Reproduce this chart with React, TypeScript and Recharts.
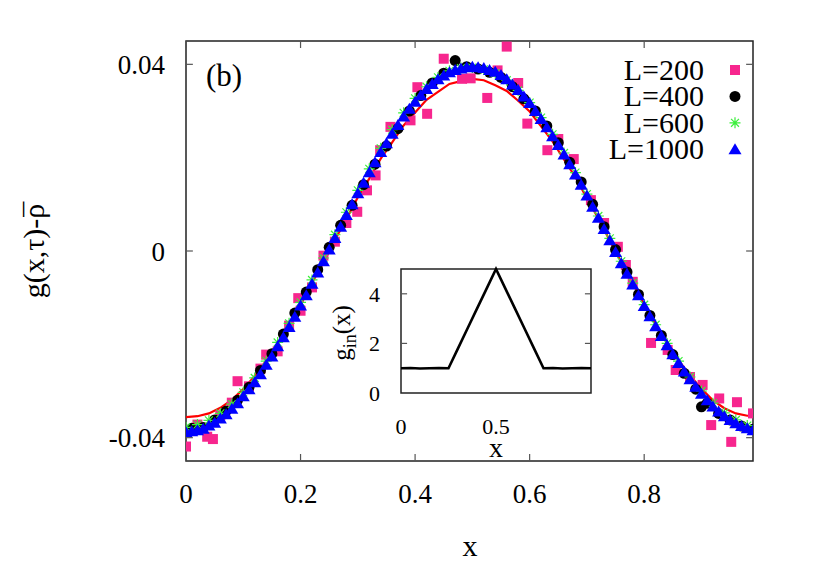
import React from 'react';
import { ComposedChart, LineChart, Scatter, Line, XAxis, YAxis, ReferenceArea, ReferenceLine } from 'recharts';

const FONT = '"Liberation Serif", "DejaVu Serif", "Times New Roman", serif';

// ---------- main chart axes ----------
const xTicks = [0, 0.2, 0.4, 0.6, 0.8];
const yTicks = [-0.04, 0, 0.04];
const xMin = 0;
const xMax = 0.99;
const yMin = -0.045;
const yMax = 0.045;

// ---------- L=200 (pink squares) ----------
const x200 = [0, 0.02, 0.037, 0.047, 0.06, 0.08, 0.09, 0.11, 0.13, 0.14, 0.16, 0.18, 0.196, 0.2, 0.22, 0.24, 0.26, 0.28, 0.299, 0.316, 0.331, 0.339, 0.357, 0.392, 0.404, 0.421, 0.45, 0.482, 0.497, 0.526, 0.544, 0.56, 0.58, 0.596, 0.631, 0.65, 0.677, 0.707, 0.73, 0.754, 0.768, 0.78, 0.812, 0.841, 0.855, 0.88, 0.902, 0.917, 0.931, 0.952, 0.962, 0.99];
const y200 = [-0.0419, -0.0372, -0.0398, -0.0403, -0.0352, -0.0325, -0.0279, -0.029, -0.0252, -0.0222, -0.0215, -0.016, -0.0101, -0.0128, -0.0078, -0.001, 0.002, 0.006, 0.0084, 0.013, 0.0162, 0.0216, 0.0266, 0.028, 0.0351, 0.0294, 0.0412, 0.0369, 0.037, 0.0328, 0.0387, 0.0438, 0.036, 0.0273, 0.0216, 0.024, 0.0197, 0.0109, 0.006, 0.0009, -0.003, -0.0066, -0.0197, -0.0212, -0.0255, -0.027, -0.0287, -0.0373, -0.0316, -0.0409, -0.0324, -0.0348];

// ---------- L=400 (black circles) ----------
const x400 = [0.01, 0.03, 0.05, 0.07, 0.09, 0.11, 0.13, 0.15, 0.17, 0.19, 0.21, 0.23, 0.25, 0.27, 0.29, 0.31, 0.33, 0.35, 0.37, 0.39, 0.41, 0.43, 0.45, 0.47, 0.49, 0.51, 0.53, 0.55, 0.57, 0.59, 0.61, 0.63, 0.65, 0.67, 0.69, 0.71, 0.73, 0.75, 0.77, 0.79, 0.81, 0.83, 0.85, 0.87, 0.89, 0.9, 0.91, 0.93, 0.95, 0.97, 0.99];
const y400 = [-0.038, -0.0378, -0.0362, -0.0343, -0.032, -0.0292, -0.0256, -0.022, -0.0178, -0.0133, -0.0088, -0.004, 0.0008, 0.0055, 0.0098, 0.0142, 0.0186, 0.0225, 0.0262, 0.03, 0.0333, 0.036, 0.0381, 0.0408, 0.0395, 0.039, 0.0383, 0.0372, 0.0352, 0.0326, 0.03, 0.0268, 0.0232, 0.019, 0.0148, 0.01, 0.0052, 0.0003, -0.0045, -0.0093, -0.0138, -0.0181, -0.0222, -0.0262, -0.0296, -0.0334, -0.0326, -0.0348, -0.0362, -0.0375, -0.0382];

// ---------- L=600 (green stars) ----------
const x600 = [0, 0.02, 0.04, 0.06, 0.08, 0.1, 0.12, 0.14, 0.16, 0.18, 0.2, 0.22, 0.24, 0.26, 0.28, 0.3, 0.32, 0.34, 0.36, 0.38, 0.4, 0.42, 0.44, 0.46, 0.48, 0.5, 0.52, 0.54, 0.56, 0.58, 0.6, 0.62, 0.64, 0.66, 0.68, 0.7, 0.72, 0.74, 0.76, 0.78, 0.8, 0.82, 0.84, 0.86, 0.88, 0.9, 0.92, 0.94, 0.96, 0.98];
const y600 = [-0.0378, -0.0372, -0.0363, -0.0348, -0.0328, -0.0303, -0.0272, -0.0236, -0.0196, -0.0155, -0.011, -0.0062, -0.0015, 0.0035, 0.0083, 0.013, 0.0176, 0.022, 0.026, 0.0296, 0.0327, 0.0352, 0.0372, 0.0386, 0.0392, 0.0393, 0.0389, 0.0381, 0.0366, 0.0344, 0.0318, 0.0286, 0.025, 0.021, 0.0168, 0.0122, 0.0075, 0.0027, -0.0022, -0.0069, -0.0115, -0.0158, -0.0198, -0.0236, -0.027, -0.03, -0.0326, -0.0347, -0.0362, -0.0374];

// ---------- L=1000 (blue triangles) ----------
const x1000 = [0, 0.01, 0.02, 0.03, 0.04, 0.05, 0.06, 0.07, 0.08, 0.09, 0.1, 0.11, 0.12, 0.13, 0.14, 0.15, 0.16, 0.17, 0.18, 0.19, 0.2, 0.21, 0.22, 0.23, 0.24, 0.25, 0.26, 0.27, 0.28, 0.29, 0.3, 0.31, 0.32, 0.33, 0.34, 0.35, 0.36, 0.37, 0.38, 0.39, 0.4, 0.41, 0.42, 0.43, 0.44, 0.45, 0.46, 0.47, 0.48, 0.49, 0.5, 0.51, 0.52, 0.53, 0.54, 0.55, 0.56, 0.57, 0.58, 0.59, 0.6, 0.61, 0.62, 0.63, 0.64, 0.65, 0.66, 0.67, 0.68, 0.69, 0.7, 0.71, 0.72, 0.73, 0.74, 0.75, 0.76, 0.77, 0.78, 0.79, 0.8, 0.81, 0.82, 0.83, 0.84, 0.85, 0.86, 0.87, 0.88, 0.89, 0.9, 0.91, 0.92, 0.93, 0.94, 0.95, 0.96, 0.97, 0.98, 0.99];
const y1000 = [-0.0388, -0.0386, -0.0384, -0.0381, -0.0374, -0.0368, -0.0359, -0.035, -0.0338, -0.0326, -0.0311, -0.0296, -0.0281, -0.0264, -0.0244, -0.0226, -0.0204, -0.0185, -0.0163, -0.0141, -0.0117, -0.0095, -0.007, -0.0046, -0.0022, 0.0003, 0.0028, 0.0052, 0.0077, 0.01, 0.0124, 0.0146, 0.0169, 0.019, 0.0212, 0.0231, 0.0251, 0.027, 0.0288, 0.0305, 0.032, 0.0334, 0.0347, 0.0358, 0.0368, 0.0376, 0.0383, 0.0388, 0.0391, 0.0394, 0.0395, 0.0394, 0.0392, 0.0388, 0.0384, 0.0377, 0.0368, 0.0357, 0.0345, 0.0331, 0.0317, 0.03, 0.0283, 0.0265, 0.0246, 0.0227, 0.0207, 0.0186, 0.0164, 0.0142, 0.0119, 0.0095, 0.0071, 0.0047, 0.0023, -0.0002, -0.0026, -0.0049, -0.0072, -0.0095, -0.0118, -0.014, -0.0161, -0.0182, -0.0202, -0.0221, -0.024, -0.0258, -0.0275, -0.0291, -0.0306, -0.032, -0.0333, -0.0344, -0.0354, -0.0362, -0.0369, -0.0375, -0.038, -0.0384];

// ---------- red curve ----------
const xRed = [0, 0.02, 0.04, 0.06, 0.08, 0.1, 0.12, 0.14, 0.16, 0.18, 0.2, 0.22, 0.24, 0.26, 0.28, 0.3, 0.32, 0.34, 0.36, 0.38, 0.4, 0.42, 0.44, 0.46, 0.48, 0.5, 0.52, 0.54, 0.56, 0.58, 0.6, 0.62, 0.64, 0.66, 0.68, 0.7, 0.72, 0.74, 0.76, 0.78, 0.8, 0.82, 0.84, 0.86, 0.88, 0.9, 0.92, 0.94, 0.96, 0.98, 0.99];
const yRed = [-0.0356, -0.0354, -0.0348, -0.0336, -0.0319, -0.0296, -0.0268, -0.0235, -0.0199, -0.0157, -0.0116, -0.0068, -0.0025, 0.0024, 0.0068, 0.0115, 0.0155, 0.0198, 0.0233, 0.0269, 0.0297, 0.0324, 0.0341, 0.0358, 0.0364, 0.0369, 0.0366, 0.0355, 0.0343, 0.0322, 0.0299, 0.0267, 0.0235, 0.0196, 0.0158, 0.0113, 0.007, 0.0022, -0.0024, -0.007, -0.0113, -0.0158, -0.0196, -0.0234, -0.0267, -0.0295, -0.032, -0.0337, -0.0348, -0.0353, -0.0352];

// ---------- inset ----------
const insetX = [0, 0.05, 0.1, 0.15, 0.2, 0.25, 0.3, 0.35, 0.4, 0.45, 0.5, 0.55, 0.6, 0.65, 0.7, 0.75, 0.8, 0.85, 0.9, 0.95, 1];
const insetG = [1, 1.01, 0.99, 1, 1.01, 1, 1.8, 2.6, 3.4, 4.2, 5, 4.2, 3.4, 2.6, 1.8, 1, 1.01, 0.99, 1, 1.01, 1];
const insetXTicks = [0, 0.5];
const insetYTicks = [0, 2, 4];

const legendNames = ['L=200', 'L=400', 'L=600', 'L=1000'];

const zip = (xs: number[], ys: number[]) => xs.map((x, i) => ({ x, y: ys[i] }));
const d200 = zip(x200, y200);
const d400 = zip(x400, y400);
const d600 = zip(x600, y600);
const d1000 = zip(x1000, y1000);
const dRed = zip(xRed, yRed);
const dInset = insetX.map((x, i) => ({ x, g: insetG[i] }));

const PINK = '#f7268e';
const GREEN = '#3bef3b';
const BLUE = '#0000ff';

const Square = (p: any) => <rect x={p.cx - 5} y={p.cy - 5} width={10} height={10} fill={PINK} />;
const Dot = (p: any) => <circle cx={p.cx} cy={p.cy} r={5.5} fill="#000" />;
const starPath = (cx: number, cy: number, r: number) => {
  const k = r * 0.72;
  return `M${cx - r},${cy}H${cx + r}M${cx},${cy - r}V${cy + r}M${cx - k},${cy - k}L${cx + k},${cy + k}M${cx - k},${cy + k}L${cx + k},${cy - k}`;
};
const Star = (p: any) => <path d={starPath(p.cx, p.cy, 5.5)} stroke={GREEN} strokeWidth={1.2} fill="none" />;
const triPoints = (cx: number, cy: number) => `${cx},${cy - 6} ${cx + 6.5},${cy + 5} ${cx - 6.5},${cy + 5}`;
const Tri = (p: any) => <polygon points={triPoints(p.cx, p.cy)} fill={BLUE} />;

const tickStyle = { fontSize: 27, fill: '#000', fontFamily: FONT };
const insetTickStyle = { fontSize: 22, fill: '#000', fontFamily: FONT };
const TICK = '#555';

export default function App() {
  const tkY = 0.0015;
  const tkX = 0.012;
  return (
    <div style={{ position: 'absolute', left: 0, top: 0, width: 814, height: 570, background: '#fff' }}>
      <ComposedChart width={814} height={570} margin={{ top: 41, right: 61, left: 0, bottom: 0 }}>
        <XAxis
          dataKey="x"
          type="number"
          domain={[xMin, xMax]}
          ticks={xTicks}
          allowDataOverflow
          height={109}
          axisLine={false}
          tickLine={false}
          tickSize={6}
          tickMargin={17}
          tick={tickStyle}
          tickFormatter={(v: number) => String(v)}
        />
        <YAxis
          dataKey="y"
          type="number"
          domain={[yMin, yMax]}
          ticks={yTicks}
          allowDataOverflow
          width={186}
          axisLine={false}
          tickLine={false}
          tickSize={6}
          tickMargin={15}
          tick={tickStyle}
          tickFormatter={(v: number) => String(v)}
        />
        {xTicks.map((t) => (
          <ReferenceLine key={'b' + t} segment={[{ x: t, y: yMin }, { x: t, y: yMin + tkY }]} stroke={TICK} strokeWidth={1.2} />
        ))}
        {xTicks.map((t) => (
          <ReferenceLine key={'t' + t} segment={[{ x: t, y: yMax }, { x: t, y: yMax - tkY }]} stroke={TICK} strokeWidth={1.2} />
        ))}
        {yTicks.map((t) => (
          <ReferenceLine key={'l' + t} segment={[{ x: xMin, y: t }, { x: xMin + tkX, y: t }]} stroke={TICK} strokeWidth={1.2} />
        ))}
        {yTicks.map((t) => (
          <ReferenceLine key={'r' + t} segment={[{ x: xMax, y: t }, { x: xMax - tkX, y: t }]} stroke={TICK} strokeWidth={1.2} />
        ))}
        <Scatter name="L=200" data={d200} dataKey="y" shape={Square} isAnimationActive={false} />
        <Scatter name="L=400" data={d400} dataKey="y" shape={Dot} isAnimationActive={false} />
        <Scatter name="L=600" data={d600} dataKey="y" shape={Star} isAnimationActive={false} />
        <Scatter name="L=1000" data={d1000} dataKey="y" shape={Tri} isAnimationActive={false} />
        <Line data={dRed} dataKey="y" stroke="#ff0000" strokeWidth={2.2} dot={false} type="linear" isAnimationActive={false} />
        <ReferenceArea x1={xMin} x2={xMax} y1={yMin} y2={yMax} fill="none" fillOpacity={0} stroke="#222" strokeWidth={1.5} />
      </ComposedChart>

      <div style={{ position: 'absolute', left: 330, top: 255 }}>
        <LineChart width={280} height={210} data={dInset} margin={{ top: 14, right: 19, left: 0, bottom: 0 }}>
          <XAxis
            dataKey="x"
            type="number"
            domain={[0, 1]}
            ticks={insetXTicks}
            height={72}
            axisLine={false}
            tickLine={false}
            tickSize={6}
            tickMargin={19}
            tick={insetTickStyle}
            tickFormatter={(v: number) => String(v)}
          />
          <YAxis
            type="number"
            domain={[0, 5]}
            ticks={insetYTicks}
            width={71}
            axisLine={false}
            tickLine={false}
            tickSize={6}
            tickMargin={15}
            tick={insetTickStyle}
          />
          {[2, 4].map((t) => (
            <ReferenceLine key={'il' + t} segment={[{ x: 0, y: t }, { x: 0.032, y: t }]} stroke={TICK} strokeWidth={1.2} />
          ))}
          {[2, 4].map((t) => (
            <ReferenceLine key={'ir' + t} segment={[{ x: 1, y: t }, { x: 0.968, y: t }]} stroke={TICK} strokeWidth={1.2} />
          ))}
          <Line dataKey="g" stroke="#000" strokeWidth={2.6} dot={false} type="linear" isAnimationActive={false} />
          <ReferenceArea x1={0} x2={1} y1={0} y2={5} fill="none" fillOpacity={0} stroke="#222" strokeWidth={1.5} />
        </LineChart>
      </div>

      <svg width={814} height={570} style={{ position: 'absolute', left: 0, top: 0, pointerEvents: 'none' }} fontFamily={FONT}>
        <text x={206} y={86} fontSize={31} fill="#000">(b)</text>
        <text x={470} y={556} fontSize={30} fill="#000" textAnchor="middle">x</text>
        <text x={44} y={250} fontSize={30} fill="#000" textAnchor="middle" transform="rotate(-90 44 250)">
          g(x,τ)-ρ<tspan dx={-13} dy={1}>¯</tspan>
        </text>
        <text x={496} y={457} fontSize={28} fill="#000" textAnchor="middle">x</text>
        <text x={350} y={333} fontSize={25} fill="#000" textAnchor="middle" transform="rotate(-90 350 333)">
          g<tspan fontSize={18} dy={6}>in</tspan><tspan dy={-6}>(x)</tspan>
        </text>
        {legendNames.map((name, i) => {
          const cy = 70 + i * 26.4;
          return (
            <g key={name}>
              <text x={704} y={cy + 10} fontSize={30} fill="#000" textAnchor="end">{name}</text>
              {i === 0 && <rect x={730} y={cy - 5} width={10} height={10} fill={PINK} />}
              {i === 1 && <circle cx={735} cy={cy} r={5.5} fill="#000" />}
              {i === 2 && <path d={starPath(735, cy, 5.5)} stroke={GREEN} strokeWidth={1.2} fill="none" />}
              {i === 3 && <polygon points={triPoints(735, cy)} fill={BLUE} />}
            </g>
          );
        })}
      </svg>
    </div>
  );
}
